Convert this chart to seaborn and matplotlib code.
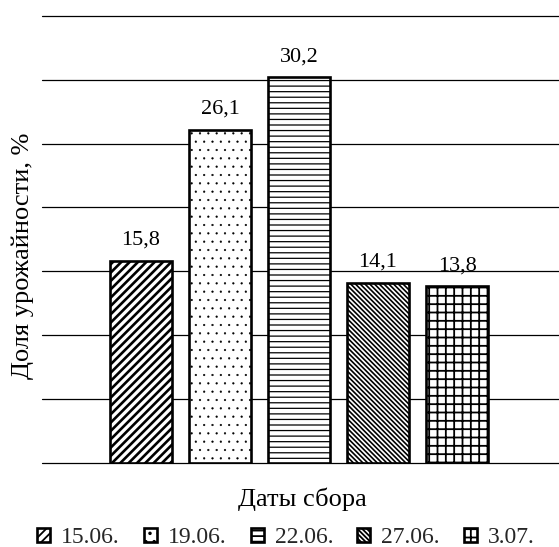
import matplotlib
matplotlib.use("Agg")
import matplotlib.pyplot as plt
import matplotlib.patches as mpatches
import seaborn as sns
import pandas as pd

# ---- data ----
dates = ["15.06.", "19.06.", "22.06.", "27.06.", "3.07."]
shares = [15.8, 26.1, 30.2, 14.1, 13.8]
hatches = ["////", "..", "---", "\\" * 7, "++"]
hatch_lws = [1.9, 0.35, 0.9, 1.2, 1.3]
y_ticks = [0, 5, 10, 15, 20, 25, 30, 35]
y_label = "Доля урожайности, %"
x_label = "Даты сбора"

sns.set_theme(style="white")
plt.rcParams["font.family"] = ["Liberation Serif", "DejaVu Serif"]
plt.rcParams["hatch.linewidth"] = 1.3
plt.rcParams["hatch.color"] = "black"

fig = plt.figure(figsize=(5.59, 5.47), dpi=100)
ax = fig.add_axes([42 / 559, (547 - 462.5) / 547, 520 / 559, 446.5 / 547])

df = pd.DataFrame({"date": dates, "share": shares})
sns.barplot(data=df, x="date", y="share", hue="date", order=dates, hue_order=dates,
            palette=["white"] * len(dates), edgecolor="black", linewidth=1.9,
            width=0.79, legend=False, ax=ax, saturation=1)

for cont, h, lw in zip(ax.containers, hatches, hatch_lws):
    for p in cont:
        p.set_hatch(h)
        p.set_edgecolor("black")
        p.set_zorder(3)
        if hasattr(p, "set_hatch_linewidth"):
            p.set_hatch_linewidth(lw)

for cont, v in zip(ax.containers, shares):
    ax.bar_label(cont, labels=[f"{v:.1f}".replace(".", ",")], padding=8,
                 fontsize=16, color="black")

ax.set_ylim(0, 35)
ax.set_yticks(y_ticks)
ax.set_xlim(-1.253, 5.329)
ax.yaxis.grid(True, color="black", linewidth=0.9)
ax.xaxis.grid(False)
ax.set_axisbelow(True)
for line in ax.yaxis.get_gridlines():
    line.set_clip_on(False)
ax.tick_params(left=False, labelleft=False, bottom=False, labelbottom=False)
for s in ax.spines.values():
    s.set_visible(False)
ax.set_xlabel("")
ax.set_ylabel("")

fig.text(23 / 559, 1 - 255.7 / 547, y_label, rotation=90, ha="center", va="center",
         fontsize=19, color="black")
fig.text(302 / 559, 1 - 499 / 547, x_label, ha="center", va="center",
         fontsize=19, color="black")

handles = []
for h, lw in zip(hatches, hatch_lws):
    hp = mpatches.Patch(facecolor="white", edgecolor="black", hatch=h, linewidth=1.9)
    if hasattr(hp, "set_hatch_linewidth"):
        hp.set_hatch_linewidth(lw)
    handles.append(hp)
fig.legend(handles, dates, loc="center left", bbox_to_anchor=(37 / 559, 1 - 537.5 / 547),
           ncol=5, frameon=False, fontsize=17, handlelength=0.55, handleheight=0.55,
           handletextpad=0.47, columnspacing=1.02, borderaxespad=0, borderpad=0)

fig.savefig("out.png", dpi=100, facecolor="white")
